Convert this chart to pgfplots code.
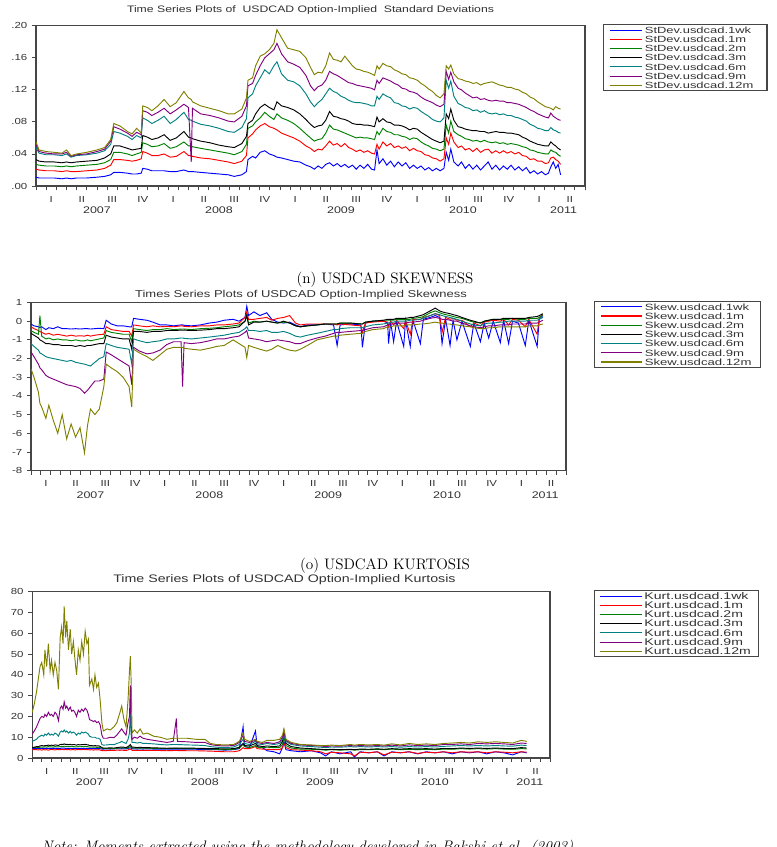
\documentclass[border=0pt]{standalone}
\usepackage{fontspec}
\usepackage{pgfplots}
\pgfplotsset{compat=1.18}
\usepackage{pgfplotstable}

\newfontfamily\evfont[FakeStretch=1.3]{Liberation Sans}
\newfontfamily\evwide[FakeStretch=1.45]{Liberation Sans}
\newcommand\evsize{\fontsize{6.6}{7}\selectfont}
% fixed-width legend entries
\newlength\lgw
\newcommand\lgent[1]{\makebox[\lgw][l]{#1}}

\definecolor{evblue}{RGB}{0,0,255}
\definecolor{evred}{RGB}{255,0,0}
\definecolor{evgreen}{RGB}{0,128,0}
\definecolor{evblack}{RGB}{0,0,0}
\definecolor{evteal}{RGB}{0,128,128}
\definecolor{evpurple}{RGB}{128,0,128}
\definecolor{evolive}{RGB}{128,128,0}
\definecolor{framegray}{RGB}{70,70,70}
\definecolor{labelgray}{RGB}{50,50,50}

% x is measured in quarters from 1 January 2007
\pgfplotstableread{
q      w1    m1    m2    m3    m6    m9    m12
0.00   .011  .021  .027  .033  .048  .052  .055
0.10   .010  .020  .026  .031  .041  .043  .045
0.33   .010  .019  .025  .030  .039  .041  .043
0.60   .010  .019  .025  .030  .039  .040  .042
0.85   .009  .018  .024  .029  .038  .040  .041
1.00   .010  .019  .025  .030  .040  .042  .045
1.15   .009  .018  .024  .029  .036  .037  .038
1.33   .010  .018  .025  .030  .038  .039  .040
1.66   .010  .019  .026  .031  .039  .040  .042
2.00   .011  .020  .027  .032  .041  .043  .045
2.25   .012  .022  .029  .035  .044  .046  .048
2.45   .014  .026  .033  .040  .052  .056  .058
2.55   .017  .033  .042  .050  .068  .074  .078
2.75   .017  .033  .042  .050  .066  .071  .075
3.00   .016  .032  .040  .047  .062  .066  .068
3.15   .015  .031  .038  .045  .058  .062  .065
3.30   .015  .032  .040  .046  .063  .067  .072
3.45   .016  .034  .042  .047  .060  .064  .066
3.50   .022  .043  .054  .063  .085  .094  .100
3.65   .021  .041  .052  .061  .082  .092  .098
3.80   .019  .038  .049  .058  .078  .088  .094
4.00   .019  .038  .050  .060  .082  .092  .100
4.20   .019  .040  .053  .064  .087  .097  .108
4.40   .018  .036  .047  .057  .078  .090  .099
4.60   .018  .037  .049  .060  .083  .095  .104
4.85   .020  .043  .055  .068  .092  .102  .118
5.00   .018  .038  .050  .061  .083  .098  .110
5.09   .018  .038  .050  .060  .082  .030  .108
5.13   .018  .037  .049  .059  .081  .097  .105
5.40   .017  .035  .047  .056  .077  .090  .100
5.70   .016  .034  .045  .054  .075  .088  .097
6.00   .015  .032  .043  .051  .072  .085  .094
6.30   .014  .030  .041  .049  .068  .081  .090
6.50   .012  .028  .039  .048  .067  .080  .090
6.75   .014  .031  .043  .053  .073  .087  .096
6.90   .018  .038  .052  .062  .084  .100  .110
6.95   .033  .060  .072  .078  .110  .125  .132
7.10   .037  .065  .075  .082  .115  .128  .135
7.20   .035  .070  .080  .090  .125  .138  .150
7.35   .042  .075  .085  .098  .135  .150  .162
7.50   .044  .078  .092  .102  .145  .160  .165
7.65   .040  .074  .087  .098  .140  .165  .170
7.80   .038  .072  .083  .095  .150  .170  .178
7.90   .036  .070  .090  .105  .155  .178  .195
8.05   .035  .066  .085  .100  .140  .165  .185
8.25   .033  .063  .082  .098  .132  .155  .172
8.45   .031  .060  .078  .095  .130  .152  .170
8.65   .030  .056  .072  .090  .125  .148  .168
8.85   .026  .050  .065  .083  .115  .138  .160
9.000  .024  .047  .060  .077  .105  .125  .148
9.125  .021  .043  .056  .073  .099  .119  .139
9.250  .025  .046  .058  .075  .104  .124  .142
9.375  .022  .045  .059  .076  .108  .126  .141
9.500  .027  .050  .066  .082  .115  .132  .150
9.625  .029  .056  .076  .093  .122  .143  .166
9.750  .025  .051  .071  .087  .118  .140  .158
9.875  .028  .053  .070  .086  .116  .138  .157
10.000 .024  .049  .068  .084  .112  .135  .155
10.125 .027  .053  .066  .083  .110  .132  .162
10.250 .023  .048  .064  .081  .107  .129  .156
10.375 .026  .046  .062  .078  .105  .128  .150
10.500 .021  .043  .060  .077  .104  .126  .146
10.625 .026  .045  .061  .077  .104  .125  .145
10.750 .022  .042  .060  .076  .103  .124  .143
10.875 .027  .044  .060  .076  .102  .123  .142
11.000 .021  .041  .059  .075  .100  .122  .140
11.100 .020  .040  .058  .074  .100  .120  .138
11.180 .045  .052  .068  .086  .112  .132  .150
11.250 .028  .046  .064  .080  .108  .128  .146
11.375 .034  .055  .072  .084  .115  .135  .153
11.500 .026  .050  .068  .080  .112  .133  .150
11.625 .031  .053  .067  .079  .110  .131  .149
11.750 .024  .048  .064  .076  .104  .128  .145
11.875 .030  .050  .064  .076  .103  .126  .143
12.000 .025  .047  .062  .075  .100  .122  .140
12.125 .029  .049  .061  .073  .099  .121  .139
12.250 .022  .044  .058  .070  .096  .118  .135
12.375 .026  .047  .060  .072  .098  .117  .134
12.500 .022  .044  .059  .071  .097  .115  .132
12.625 .025  .043  .055  .067  .093  .111  .128
12.750 .020  .039  .052  .064  .090  .108  .125
12.875 .023  .038  .050  .061  .087  .106  .121
13.000 .019  .035  .047  .058  .083  .104  .118
13.125 .022  .034  .046  .056  .081  .101  .113
13.250 .019  .031  .044  .054  .080  .099  .110
13.375 .022  .034  .046  .056  .085  .102  .115
13.450 .042  .060  .076  .090  .132  .143  .150
13.530 .032  .052  .066  .084  .122  .133  .146
13.600 .046  .066  .081  .096  .131  .142  .151
13.700 .030  .055  .068  .082  .112  .130  .140
13.840 .025  .048  .064  .074  .103  .122  .134
13.950 .030  .050  .062  .073  .101  .120  .133
14.075 .022  .045  .059  .071  .098  .116  .131
14.200 .027  .047  .058  .070  .097  .113  .130
14.325 .021  .043  .056  .069  .094  .110  .128
14.450 .026  .047  .057  .069  .095  .111  .129
14.575 .020  .042  .055  .068  .092  .108  .126
14.700 .025  .045  .057  .068  .094  .109  .128
14.825 .030  .046  .055  .066  .091  .107  .129
14.950 .021  .041  .054  .067  .090  .106  .130
15.075 .026  .044  .055  .068  .091  .107  .128
15.200 .020  .041  .053  .067  .089  .106  .126
15.325 .025  .044  .054  .067  .090  .106  .125
15.450 .021  .041  .052  .066  .088  .104  .123
15.575 .026  .043  .053  .066  .088  .104  .123
15.700 .020  .040  .052  .065  .086  .103  .121
15.825 .024  .042  .051  .064  .085  .102  .120
15.950 .019  .038  .049  .061  .083  .100  .117
16.075 .023  .037  .048  .059  .081  .098  .115
16.200 .016  .033  .045  .056  .077  .095  .111
16.325 .019  .034  .044  .054  .075  .093  .109
16.450 .015  .031  .042  .052  .072  .090  .105
16.575 .018  .031  .041  .051  .071  .088  .102
16.700 .014  .028  .040  .050  .069  .086  .099
16.800 .016  .029  .040  .050  .069  .085  .098
16.880 .024  .035  .045  .055  .073  .091  .097
16.960 .030  .036  .043  .052  .070  .087  .095
17.040 .022  .033  .042  .050  .069  .085  .099
17.120 .027  .031  .039  .047  .067  .083  .097
17.200 .014  .027  .037  .045  .066  .082  .096
}\stdevdata

\pgfplotstableread{
q     w1     m1     m2     m3     m6     m9     m12
0.00  -0.15  -0.30  -0.50  -0.65  -1.20  -1.65  -2.55
0.10  -0.25  -0.40  -0.60  -0.75  -1.35  -1.90  -3.00
0.25  -0.30  -0.50  -0.70  -0.90  -1.55  -2.30  -3.80
0.30  -0.35  -0.55   0.30  -1.00  -1.70  -2.50  -4.40
0.36  -0.30  -0.60  -0.80  -1.05  -1.75  -2.60  -4.60
0.50  -0.45  -0.70  -0.95  -1.20  -1.90  -2.90  -5.20
0.60  -0.35  -0.65  -0.90  -1.20  -1.95  -3.00  -4.50
0.75  -0.40  -0.75  -1.00  -1.25  -2.00  -3.10  -5.30
0.90  -0.30  -0.70  -0.95  -1.25  -2.05  -3.20  -6.00
1.05  -0.40  -0.75  -1.00  -1.30  -2.10  -3.30  -5.00
1.20  -0.40  -0.80  -1.00  -1.30  -2.15  -3.40  -6.30
1.35  -0.42  -0.75  -1.05  -1.30  -2.10  -3.45  -5.50
1.50  -0.40  -0.80  -1.00  -1.35  -2.20  -3.50  -6.20
1.65  -0.42  -0.78  -1.05  -1.30  -2.25  -3.60  -5.70
1.80  -0.40  -0.80  -1.05  -1.35  -2.30  -3.85  -7.05
1.90  -0.40  -0.75  -1.00  -1.30  -2.35  -3.70  -5.60
2.00  -0.42  -0.80  -1.05  -1.30  -2.40  -3.50  -4.70
2.15  -0.40  -0.75  -1.00  -1.25  -2.20  -3.20  -5.00
2.30  -0.38  -0.72  -0.95  -1.20  -2.00  -3.20  -4.70
2.45  -0.40  -0.70  -0.90  -1.20  -1.90  -3.10  -3.50
2.53   0.05  -0.30  -0.50  -0.75  -1.20  -1.65  -2.30
2.70  -0.15  -0.45  -0.60  -0.85  -1.30  -1.80  -2.50
2.90  -0.25  -0.50  -0.65  -0.90  -1.40  -2.00  -2.70
3.10  -0.25  -0.55  -0.70  -0.95  -1.45  -2.20  -3.00
3.30  -0.30  -0.55  -0.70  -0.95  -1.50  -2.40  -3.50
3.39  -0.30  -0.80  -1.10  -1.50  -2.30  -3.40  -4.60
3.45   0.15  -0.20  -0.40  -0.55  -0.95  -1.40  -1.50
3.65   0.10  -0.25  -0.45  -0.55  -1.05  -1.60  -1.70
3.90   0.05  -0.30  -0.50  -0.60  -1.15  -1.75  -1.90
4.10  -0.05  -0.25  -0.45  -0.55  -1.10  -1.70  -2.10
4.34  -0.20  -0.30  -0.45  -0.55  -1.05  -1.55  -1.80
4.57  -0.20  -0.28  -0.40  -0.50  -0.95  -1.25  -1.50
4.80  -0.25  -0.30  -0.45  -0.50  -0.95  -1.10  -1.40
5.05  -0.20  -0.25  -0.42  -0.48  -0.90  -1.10  -1.40
5.10  -0.20  -0.25  -0.42  -0.48  -0.90  -3.50  -1.40
5.15  -0.22  -0.28  -0.42  -0.48  -0.92  -1.15  -1.45
5.40  -0.25  -0.30  -0.45  -0.50  -0.95  -1.20  -1.50
5.70  -0.20  -0.25  -0.40  -0.48  -0.90  -1.15  -1.55
6.00  -0.10  -0.25  -0.38  -0.45  -0.85  -1.05  -1.45
6.25  -0.05  -0.20  -0.35  -0.40  -0.80  -0.95  -1.35
6.50   0.05  -0.20  -0.30  -0.40  -0.75  -0.95  -1.30
6.80   0.10  -0.15  -0.25  -0.35  -0.65  -0.85  -1.00
7.00   0.00  -0.10  -0.20  -0.30  -0.60  -0.80  -1.20
7.20   0.20   0.20   0.00   0.00  -0.40  -0.60  -1.40
7.26   0.80   0.50   0.30   0.30  -0.30  -0.50  -1.95
7.32   0.30   0.10  -0.10  -0.20  -0.50  -0.90  -1.30
7.50   0.50   0.10   0.00  -0.05  -0.50  -0.95  -1.40
7.70   0.30   0.15  -0.05  -0.05  -0.55  -1.00  -1.50
7.93   0.45   0.20   0.00   0.00  -0.50  -1.10  -1.60
8.10   0.10   0.05  -0.05  -0.05  -0.60  -1.05  -1.50
8.30  -0.05   0.15  -0.10  -0.10  -0.60  -1.00  -1.30
8.50  -0.10   0.20  -0.05   0.00  -0.55  -1.05  -1.45
8.70  -0.05   0.30  -0.10  -0.10  -0.65  -1.10  -1.55
8.90  -0.20  -0.10  -0.25  -0.25  -0.80  -1.20  -1.60
9.06  -0.30  -0.20  -0.30  -0.30  -0.85  -1.20  -1.50
9.30  -0.20  -0.15  -0.25  -0.25  -0.75  -1.05  -1.30
9.62  -0.20  -0.15  -0.20  -0.20  -0.65  -0.90  -1.00
9.90  -0.15  -0.15  -0.15  -0.15  -0.55  -0.80  -0.90
10.18 -0.20  -0.15  -0.15  -0.15  -0.45  -0.65  -0.80
10.30 -1.30  -0.20  -0.15  -0.15  -0.45  -0.60  -0.80
10.40 -0.20  -0.15  -0.10  -0.10  -0.40  -0.60  -0.75
10.74 -0.15  -0.20  -0.10  -0.10  -0.35  -0.55  -0.70
11.10 -0.20  -0.25  -0.15  -0.15  -0.35  -0.50  -0.65
11.15 -1.40  -0.60  -0.15  -0.15  -0.35  -0.50  -0.65
11.25 -0.10  -0.10  -0.05  -0.05  -0.30  -0.45  -0.55
11.50  0.00  -0.05   0.00   0.00  -0.20  -0.35  -0.45
11.86  0.00   0.00   0.05   0.05  -0.15  -0.30  -0.40
12.00 -0.10  -0.05   0.05   0.10  -0.10  -0.20  -0.30
12.03 -1.20  -0.30   0.05   0.10  -0.10  -0.20  -0.30
12.10 -0.05   0.00   0.05   0.10  -0.05  -0.15  -0.30
12.20 -1.10  -0.20   0.05   0.10  -0.05  -0.15  -0.25
12.30  0.00   0.05   0.10   0.15   0.00  -0.10  -0.25
12.54 -1.35  -0.40   0.10   0.15   0.00  -0.10  -0.25
12.60  0.05   0.05   0.10   0.15   0.00  -0.10  -0.20
12.76 -1.35  -0.70   0.10   0.20   0.05  -0.05  -0.20
12.85  0.05   0.10   0.15   0.20   0.05  -0.05  -0.20
13.10 -1.20   0.10   0.20   0.30   0.10   0.00  -0.15
13.20  0.10   0.20   0.25   0.35   0.15   0.05  -0.15
13.43  0.20   0.30   0.45   0.55   0.30   0.15  -0.10
13.60  0.30   0.40   0.55   0.70   0.40   0.20  -0.05
13.75  0.20   0.30   0.45   0.55   0.35   0.15  -0.10
13.83 -1.20  -0.60   0.40   0.50   0.30   0.10  -0.10
13.95  0.10   0.20   0.35   0.45   0.25   0.10  -0.15
14.10 -1.30   0.10   0.30   0.40   0.20   0.05  -0.15
14.20  0.05   0.15   0.25   0.35   0.15   0.00  -0.20
14.33 -1.00   0.05   0.20   0.30   0.10   0.00  -0.20
14.50  0.00   0.05   0.15   0.20   0.00  -0.10  -0.25
14.78 -1.35  -0.30   0.00   0.05  -0.15  -0.25  -0.30
14.90 -0.10  -0.10  -0.05   0.00  -0.20  -0.30  -0.35
15.12 -1.10  -0.25  -0.10  -0.10  -0.25  -0.35  -0.40
15.25 -0.10  -0.05   0.00   0.00  -0.15  -0.30  -0.40
15.40 -0.90   0.00   0.05   0.05  -0.10  -0.25  -0.35
15.55  0.00   0.05   0.10   0.10  -0.10  -0.25  -0.35
15.79 -1.15   0.00   0.10   0.10  -0.05  -0.20  -0.30
15.90  0.05   0.10   0.10   0.15  -0.05  -0.20  -0.30
16.07 -1.20  -0.20   0.10   0.15   0.00  -0.20  -0.30
16.20  0.00   0.10   0.15   0.15   0.00  -0.15  -0.30
16.40 -0.10   0.05   0.10   0.15   0.00  -0.15  -0.30
16.63 -1.30  -0.30   0.10   0.15   0.00  -0.15  -0.30
16.75  0.05   0.10   0.15   0.20   0.05  -0.10  -0.25
17.03 -1.35  -0.70   0.15   0.25   0.05  -0.10  -0.25
17.10  0.10   0.20   0.20   0.30   0.10  -0.05  -0.20
17.22  0.30   0.35   0.35   0.40   0.20   0.05  -0.15
}\skewdata

\pgfplotstableread{
q     w1    m1    m2    m3    m6    m9    m12
0.00  4.5   4.0   5.0   5.0   8.0   11.5  22.0
0.07  4.5   4.0   5.0   5.2   8.5   13.0  26.0
0.15  4.5   4.0   5.2   5.5   9.0   15.0  32.0
0.21  4.6   3.9   5.0   5.5   10.0  17.0  38.0
0.27  4.5   4.0   5.2   5.8   10.5  19.0  44.0
0.33  4.7   3.8   5.3   6.0   11.0  20.0  46.0
0.40  4.5   4.1   5.2   5.8   10.5  19.5  40.0
0.44  4.6   3.9   5.4   6.0   11.5  21.0  52.0
0.50  4.5   4.0   5.2   6.0   11.0  20.0  44.0
0.56  4.7   3.8   5.5   6.2   12.0  22.0  55.0
0.62  4.5   4.0   5.3   6.0   11.0  20.5  42.0
0.67  4.6   4.2   5.4   6.2   11.5  21.0  47.0
0.73  4.5   4.0   5.2   6.0   11.0  20.0  40.0
0.79  4.7   3.9   5.5   6.3   12.0  22.0  46.0
0.85  4.6   4.1   5.4   6.2   11.5  21.0  42.0
0.91  4.5   4.0   5.3   6.0   10.5  18.0  33.0
0.97  4.6   4.0   5.5   6.5   12.5  24.0  58.0
1.02  4.8   4.2   5.6   6.6   13.0  25.0  63.0
1.07  4.7   4.1   5.5   6.5   12.5  23.5  55.0
1.11  4.8   4.0   5.7   6.8   13.5  27.0  73.0
1.16  4.6   4.2   5.5   6.5   12.5  24.0  58.0
1.20  4.7   4.0   5.6   6.6   13.0  25.0  66.0
1.26  4.6   4.1   5.5   6.4   12.0  23.0  52.0
1.32  4.7   3.9   5.6   6.6   12.8  24.5  62.0
1.37  4.5   4.0   5.4   6.3   12.0  22.5  50.0
1.43  4.6   4.1   5.5   6.5   12.5  23.0  56.0
1.48  4.6   3.9   5.4   6.4   12.0  22.0  48.0
1.54  4.5   4.0   5.3   6.2   11.0  20.0  40.0
1.60  4.6   4.1   5.5   6.5   12.0  23.0  52.0
1.66  4.5   4.0   5.4   6.3   11.5  22.0  47.0
1.72  4.7   4.0   5.5   6.5   12.5  23.5  56.0
1.78  4.6   4.2   5.4   6.4   12.0  22.5  50.0
1.84  4.7   4.0   5.6   6.6   12.5  24.0  61.0
1.90  4.6   4.1   5.5   6.4   12.0  23.0  55.0
1.95  4.6   4.0   5.4   6.3   11.5  21.0  57.0
1.99  4.5   3.9   5.2   6.0   10.5  18.5  35.0
2.07  4.6   4.0   5.3   6.0   10.0  18.0  38.0
2.13  4.5   3.8   5.2   5.8   10.0  17.5  33.0
2.18  4.6   4.0   5.3   6.0   10.0  18.0  40.0
2.24  4.5   3.9   5.1   5.8   9.5   17.0  34.0
2.30  4.6   4.0   5.2   5.9   9.5   17.5  36.0
2.36  4.5   3.8   5.0   5.6   9.0   16.0  28.0
2.42  4.3   3.6   4.7   5.0   6.5   11.0  17.0
2.47  4.3   3.5   4.6   4.8   6.2   9.5   13.0
2.60  4.4   3.6   4.5   4.8   6.3   9.5   14.0
2.71  4.3   3.7   4.6   4.9   6.5   10.0  13.5
2.84  4.4   3.6   4.5   4.8   6.4   9.8   15.0
2.94  4.5   3.8   4.7   5.0   7.0   11.0  17.0
3.05  4.4   3.7   4.8   5.2   7.5   13.0  22.0
3.11  4.5   3.8   4.9   5.3   8.0   14.0  25.0
3.18  4.4   3.7   4.8   5.2   7.5   12.5  19.0
3.26  4.4   3.6   4.7   5.0   7.0   11.0  15.0
3.33  4.6   3.9   5.0   5.5   9.0   17.0  28.0
3.38  4.8   4.2   5.3   6.0   12.0  20.0  42.0
3.41  4.9   4.3   5.5   6.5   24.0  35.0  49.0
3.44  4.7   4.1   5.2   5.8   11.0  16.0  36.0
3.47  4.4   3.7   4.8   5.2   7.5   9.0   12.0
3.55  4.4   3.7   4.8   5.2   7.5   10.0  13.5
3.65  4.3   3.6   4.7   5.0   7.2   9.5   12.0
3.75  4.4   3.7   4.8   5.2   7.5   10.5  14.0
3.85  4.3   3.6   4.7   5.0   7.0   9.5   11.5
4.00  4.4   3.7   4.7   5.0   7.0   9.0   12.0
4.22  4.3   3.6   4.6   4.9   6.8   8.5   10.5
4.45  4.3   3.6   4.6   4.8   6.5   8.0   10.0
4.68  4.2   3.5   4.5   4.7   6.3   7.5   9.0
4.90  4.3   3.6   4.6   4.8   6.5   8.0   9.5
5.01  4.3   3.6   4.6   4.8   6.5   19.0  9.5
5.03  4.3   3.6   4.6   4.8   6.5   12.0  9.5
5.05  4.3   3.6   4.6   4.8   6.5   8.0   9.5
5.38  4.2   3.5   4.5   4.8   6.3   7.8   9.5
5.70  4.2   3.5   4.5   4.7   6.2   7.5   9.0
6.00  4.1   3.4   4.4   4.6   6.0   7.5   9.0
6.19  4.0   3.3   4.3   4.5   5.5   6.5   7.0
6.40  4.0   3.2   4.2   4.5   5.2   6.0   6.5
6.70  3.8   3.0   4.0   4.4   5.0   5.8   6.3
7.00  4.0   3.0   4.2   4.5   5.3   6.0   6.5
7.20  4.5   3.5   4.8   5.2   6.5   7.5   8.0
7.33  15.0  5.0   6.5   7.0   9.0   11.0  12.0
7.38  5.5   4.5   5.5   6.0   7.0   8.0   9.0
7.55  5.0   4.5   5.0   5.8   6.5   7.5   8.0
7.76  13.0  5.5   6.0   7.0   8.0   8.5   9.0
7.82  5.5   4.5   5.2   6.0   6.8   7.5   8.0
8.00  5.0   4.3   5.0   5.5   6.5   7.0   7.5
8.16  3.5   4.2   5.2   5.8   7.0   7.5   8.5
8.40  3.0   4.0   5.0   5.5   6.5   7.0   8.5
8.60  2.0   4.0   5.0   5.8   7.0   7.8   9.0
8.70  5.0   5.0   6.5   8.0   9.0   10.0  11.0
8.75  8.0   7.0   10.0  13.0  11.0  12.0  14.0
8.82  4.0   5.0   6.0   7.0   8.0   8.5   9.0
9.00  3.5   4.0   4.8   5.5   6.5   7.0   7.5
9.33  3.0   3.8   4.3   4.8   5.8   6.3   6.5
9.70  3.5   3.5   4.2   4.5   5.5   6.0   6.3
10.02 2.5   3.0   4.0   4.2   5.2   5.8   6.0
10.20 1.0   2.0   3.8   4.0   5.0   5.5   6.0
10.40 3.0   2.8   4.0   4.2   5.3   5.8   6.2
10.70 2.0   2.5   3.8   4.0   5.2   5.7   6.0
11.07 3.0   2.0   4.0   4.2   5.5   6.0   6.5
11.20 0.5   1.0   3.8   4.0   5.3   5.8   6.2
11.40 3.0   2.8   4.0   4.3   5.5   6.0   6.5
11.70 2.5   2.5   4.0   4.2   5.3   5.8   6.3
12.00 3.0   3.0   4.2   4.4   5.5   6.0   6.5
12.23 1.0   1.5   4.0   4.2   5.3   5.8   6.2
12.50 3.0   2.8   4.3   4.5   5.5   6.2   6.8
12.80 2.5   2.5   4.0   4.3   5.2   5.8   6.3
13.10 3.0   3.0   4.2   4.5   5.5   6.3   7.0
13.40 2.0   2.2   4.0   4.4   5.3   6.0   6.5
13.70 3.0   2.8   4.2   4.5   5.5   6.2   6.8
14.00 2.5   2.5   4.0   4.3   5.3   6.0   6.5
14.30 3.0   3.0   4.3   4.6   5.6   6.5   7.0
14.60 2.0   2.5   4.2   4.5   5.8   6.5   7.2
14.90 3.0   3.0   4.5   4.8   6.0   6.8   7.5
15.20 2.5   2.8   4.3   4.6   5.8   6.5   7.2
15.50 3.0   3.0   4.5   4.8   6.0   7.0   7.8
15.80 2.0   2.5   4.3   4.6   5.8   6.8   7.5
16.10 3.0   3.0   4.5   4.8   6.0   7.0   7.8
16.40 2.5   2.8   4.3   4.6   5.8   6.8   7.5
16.70 1.5   2.5   4.2   4.5   5.7   6.5   7.2
17.00 3.0   3.0   4.5   5.0   6.2   7.2   8.5
17.19 2.5   2.8   4.4   4.8   6.0   7.0   8.0
}\kurtdata

\tikzset{yearlabel/.style={font=\evfont\fontsize{7.2}{8}\selectfont, text=labelgray, anchor=base}}

\pgfplotsset{
  legend image code/.code={\draw[#1, line width=0.8pt] (0pt,0pt) -- (24.5pt,0pt);},
  evaxis/.style={
    scale only axis, anchor=south west,
    xmin=0, xmax=18,
    xtick={0,1,...,18}, xticklabels={}, minor x tick num=2,
    extra x ticks={0.5,1.5,...,17.5},
    extra x tick labels={I,II,III,IV,I,II,III,IV,I,II,III,IV,I,II,III,IV,I,II},
    extra x tick style={major tick length=0pt,
      tick label style={yshift=-4pt}},
    tickpos=left, tick align=outside,
    major tick length=3pt, minor tick length=3pt,
    axis line style={draw=framegray, line width=0.85pt},
    every tick/.style={draw=framegray, line width=0.65pt},
    ticklabel style={font=\evfont\evsize, text=labelgray},
    title style={text=labelgray, at={(0.5,1)}, anchor=base},
    every axis plot/.append style={line width=0.7pt, no markers},
    clip=false,
    legend cell align=left,
    legend style={anchor=north west, draw=framegray, line width=0.85pt,
      fill=white, text=labelgray,
      inner xsep=4pt, inner ysep=0.6pt, row sep=0pt,
      nodes={inner xsep=1.6pt, inner ysep=1pt, text height=4.9pt, text depth=0pt}},
  },
}

\begin{document}
\begin{tikzpicture}
\useasboundingbox (0pt,0pt) rectangle (582.75pt,-635.25pt);

% ---------- standard deviations ----------
\setlength\lgw{86pt}
\begin{axis}[evaxis,
  at={(27pt,-139.5pt)}, width=411.75pt, height=120.2pt,
  ymin=0, ymax=0.2,
  ytick={0,0.04,0.08,0.12,0.16,0.2},
  yticklabels={.00,.04,.08,.12,.16,.20},
  title={Time Series Plots of\ \ USDCAD Option-Implied\ \ Standard Deviations},
  title style={yshift=4.3pt, font=\evfont\fontsize{7.05}{8}\selectfont},
  legend style={at={(1.033,1.01)}, font=\evwide\fontsize{6.7}{8}\selectfont},
]
\addplot[evblue]   table[x=q,y=w1]  {\stdevdata};
\addplot[evred]    table[x=q,y=m1]  {\stdevdata};
\addplot[evgreen]  table[x=q,y=m2]  {\stdevdata};
\addplot[evblack]  table[x=q,y=m3]  {\stdevdata};
\addplot[evteal]   table[x=q,y=m6]  {\stdevdata};
\addplot[evpurple] table[x=q,y=m9]  {\stdevdata};
\addplot[evolive]  table[x=q,y=m12] {\stdevdata};
\legend{\lgent{StDev.usdcad.1wk},\lgent{StDev.usdcad.1m},\lgent{StDev.usdcad.2m},\lgent{StDev.usdcad.3m},\lgent{StDev.usdcad.6m},\lgent{StDev.usdcad.9m},\lgent{StDev.usdcad.12m}}
\node[yearlabel] at (axis cs:2,0)  [yshift=-20.5pt] {2007};
\node[yearlabel] at (axis cs:6,0)  [yshift=-20.5pt] {2008};
\node[yearlabel] at (axis cs:10,0) [yshift=-20.5pt] {2009};
\node[yearlabel] at (axis cs:14,0) [yshift=-20.5pt] {2010};
\node[yearlabel] at (axis cs:17.3,0) [yshift=-20.5pt] {2011};
\end{axis}

\node[anchor=base, font=\fontsize{11.4}{13}\selectfont] at (288.75pt,-212.6pt) {(n) USDCAD SKEWNESS};

% ---------- skewness ----------
\setlength\lgw{81.5pt}
\begin{axis}[evaxis,
  at={(23.25pt,-353pt)}, width=401.25pt, height=126.15pt,
  ymin=-8, ymax=1,
  ytick={-8,-7,...,1},
  yticklabels={-8,-7,-6,-5,-4,-3,-2,-1,0,1},
  title={Times Series Plots of USDCAD Option-Implied Skewness},
  title style={yshift=-1.9pt, xshift=1.9pt, font=\evfont\fontsize{7.5}{8}\selectfont},
  legend image code/.code={\draw[#1, line width=0.8pt] (0pt,0pt) -- (31pt,0pt);},
  legend style={at={(1.053,1.01)}, font=\evwide\fontsize{6.8}{8}\selectfont},
]
\addplot[evblue]   table[x=q,y=w1]  {\skewdata};
\addplot[evred]    table[x=q,y=m1]  {\skewdata};
\addplot[evgreen]  table[x=q,y=m2]  {\skewdata};
\addplot[evblack]  table[x=q,y=m3]  {\skewdata};
\addplot[evteal]   table[x=q,y=m6]  {\skewdata};
\addplot[evpurple] table[x=q,y=m9]  {\skewdata};
\addplot[evolive]  table[x=q,y=m12] {\skewdata};
\legend{\lgent{Skew.usdcad.1wk},\lgent{Skew.usdcad.1m},\lgent{Skew.usdcad.2m},\lgent{Skew.usdcad.3m},\lgent{Skew.usdcad.6m},\lgent{Skew.usdcad.9m},\lgent{Skew.usdcad.12m}}
\node[yearlabel] at (axis cs:2,-8)  [yshift=-20.5pt] {2007};
\node[yearlabel] at (axis cs:6,-8)  [yshift=-20.5pt] {2008};
\node[yearlabel] at (axis cs:10,-8) [yshift=-20.5pt] {2009};
\node[yearlabel] at (axis cs:14,-8) [yshift=-20.5pt] {2010};
\node[yearlabel] at (axis cs:17.3,-8) [yshift=-20.5pt] {2011};
\end{axis}

\node[anchor=base, font=\fontsize{11.4}{13}\selectfont] at (288.75pt,-427.1pt) {(o) USDCAD KURTOSIS};

% ---------- kurtosis ----------
\setlength\lgw{79.75pt}
\begin{axis}[evaxis,
  at={(24.2pt,-568.5pt)}, width=388.3pt, height=124.7pt,
  ymin=0, ymax=80,
  ytick={0,10,...,80},
  yticklabels={0,10,20,30,40,50,60,70,80},
  title={Time Series Plots of USDCAD Option-Implied Kurtosis},
  title style={yshift=1.3pt, xshift=-5pt, font=\evfont\fontsize{8.2}{9}\selectfont},
  legend image code/.code={\draw[#1, line width=0.8pt] (0pt,0pt) -- (31pt,0pt);},
  legend style={at={(1.085,1.01)}, font=\evwide\fontsize{7.28}{9}\selectfont},
]
\addplot[evblue]   table[x=q,y=w1]  {\kurtdata};
\addplot[evred]    table[x=q,y=m1]  {\kurtdata};
\addplot[evgreen]  table[x=q,y=m2]  {\kurtdata};
\addplot[evblack]  table[x=q,y=m3]  {\kurtdata};
\addplot[evteal]   table[x=q,y=m6]  {\kurtdata};
\addplot[evpurple] table[x=q,y=m9]  {\kurtdata};
\addplot[evolive]  table[x=q,y=m12] {\kurtdata};
\legend{\lgent{Kurt.usdcad.1wk},\lgent{Kurt.usdcad.1m},\lgent{Kurt.usdcad.2m},\lgent{Kurt.usdcad.3m},\lgent{Kurt.usdcad.6m},\lgent{Kurt.usdcad.9m},\lgent{Kurt.usdcad.12m}}
\node[yearlabel] at (axis cs:2,0)  [yshift=-20.5pt] {2007};
\node[yearlabel] at (axis cs:6,0)  [yshift=-20.5pt] {2008};
\node[yearlabel] at (axis cs:10,0) [yshift=-20.5pt] {2009};
\node[yearlabel] at (axis cs:14,0) [yshift=-20.5pt] {2010};
\node[yearlabel] at (axis cs:17.3,0) [yshift=-20.5pt] {2011};
\end{axis}

\node[anchor=base west, font=\fontsize{11.4}{13}\selectfont\itshape] at (27.75pt,-638.25pt)
  {Note: Moments extracted using the methodology developed in Bakshi et al. (2003).};
\end{tikzpicture}
\end{document}
